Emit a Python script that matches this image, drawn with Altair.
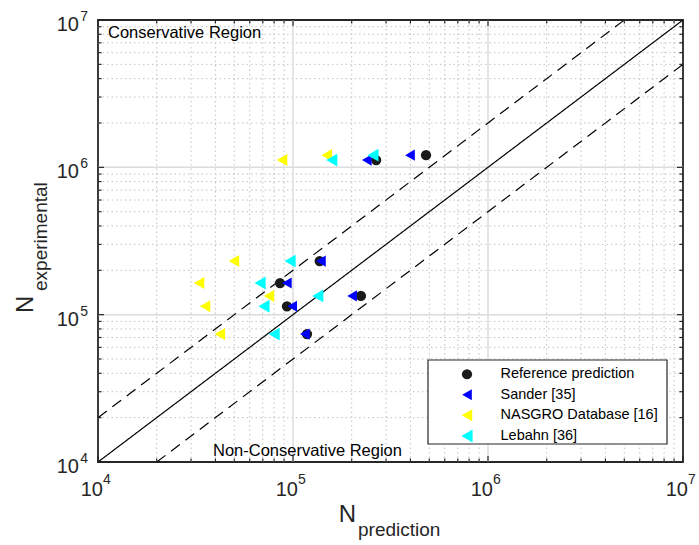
import altair as alt
import pandas as pd

W, H = 585, 442
FONT = "Liberation Sans"
AX = "#262626"

# ---- data ----
series_names = ["Reference prediction", "Sander [35]", "NASGRO Database [16]", "Lebahn [36]"]
series_colors = ["#1a1a1a", "#0000ff", "#ffff00", "#00ffff"]
series_shapes = ["circle", "triangle-left", "triangle-left", "triangle-left"]
n_experimental = [1.21e6, 1.12e6, 2.31e5, 1.64e5, 1.34e5, 1.14e5, 7.38e4]
ref_pred = [4.81e5, 2.67e5, 1.37e5, 8.58e4, 2.23e5, 9.31e4, 1.18e5]
sander_pred = [3.98e5, 2.39e5, 1.39e5, 9.3e4, 2.01e5, 9.9e4, 1.15e5]
nasgro_pred = [1.49e5, 8.79e4, 4.98e4, 3.30e4, 7.53e4, 3.54e4, 4.22e4]
lebahn_pred = [2.57e5, 1.58e5, 9.66e4, 6.78e4, 1.34e5, 7.1e4, 8.0e4]

decades = [1e4, 1e5, 1e6, 1e7]
decade_exp = ["4", "5", "6", "7"]
minor_ticks = [m * d for d in [1e4, 1e5, 1e6] for m in range(2, 10)]
major_grid = [1e5, 1e6]
ratio_lines = [1.0, 2.0, 0.5]
ratio_dash = [[1, 0], [11, 7], [11, 7]]

lo, hi = 1e4, 1e7
xs = alt.Scale(type="log", domain=[lo, hi], nice=False)
ys = alt.Scale(type="log", domain=[lo, hi], nice=False)

rows = []
for name, preds in zip(series_names, [ref_pred, sander_pred, nasgro_pred, lebahn_pred]):
    for p, e in zip(preds, n_experimental):
        rows.append({"pred": p, "exp": e, "series": name})
df = pd.DataFrame(rows)

one = alt.Data(values=[{}])


def vrules(vals, y0, y1, **kw):
    return alt.Chart(pd.DataFrame({"v": vals})).mark_rule(**kw).encode(
        x=alt.X("v:Q", scale=xs, axis=None), y=alt.value(y0), y2=alt.value(y1))


def hrules(vals, x0, x1, **kw):
    return alt.Chart(pd.DataFrame({"v": vals})).mark_rule(**kw).encode(
        y=alt.Y("v:Q", scale=ys, axis=None), x=alt.value(x0), x2=alt.value(x1))


layers = []
# grids
layers.append(vrules(minor_ticks, 0, H, color="#c2c2c2", strokeDash=[1.5, 3], strokeWidth=1))
layers.append(hrules(minor_ticks, 0, W, color="#c2c2c2", strokeDash=[1.5, 3], strokeWidth=1))
layers.append(vrules(major_grid, 0, H, color="#dcdcdc", strokeWidth=1.5))
layers.append(hrules(major_grid, 0, W, color="#dcdcdc", strokeWidth=1.5))

# reference lines y = r * x
for r, dash in zip(ratio_lines, ratio_dash):
    x0 = max(lo, lo / r)
    x1 = min(hi, hi / r)
    ldf = pd.DataFrame({"x": [x0, x1], "y": [x0 * r, x1 * r]})
    layers.append(alt.Chart(ldf).mark_line(color="black", strokeWidth=1.2, strokeDash=dash).encode(
        x=alt.X("x:Q", scale=xs, axis=None), y=alt.Y("y:Q", scale=ys, axis=None)))

# ticks (inside, all four sides)
TM, Tm = 6, 3.5
for vals, L in [(decades, TM), (minor_ticks, Tm)]:
    layers.append(vrules(vals, H, H - L, color=AX, strokeWidth=1.2))
    layers.append(vrules(vals, 0, L, color=AX, strokeWidth=1.2))
    layers.append(hrules(vals, 0, L, color=AX, strokeWidth=1.2))
    layers.append(hrules(vals, W, W - L, color=AX, strokeWidth=1.2))

# legend box
layers.append(alt.Chart(one).mark_rect(fill="white", stroke=AX, strokeWidth=1.2).encode(
    x=alt.value(330), x2=alt.value(569), y=alt.value(340), y2=alt.value(424)))

# data points
leg = alt.Legend(orient="none", legendX=361.5, legendY=347, title=None, padding=0,
                 symbolOffset=0, labelOffset=26, labelFont=FONT, labelFontSize=14.5,
                 labelColor="black", rowPadding=5.5, labelLimit=300)
layers.append(alt.Chart(df).mark_point(filled=True, opacity=1, strokeWidth=1).encode(
    x=alt.X("pred:Q", scale=xs, axis=None),
    y=alt.Y("exp:Q", scale=ys, axis=None),
    color=alt.Color("series:N", scale=alt.Scale(domain=series_names, range=series_colors), legend=leg),
    shape=alt.Shape("series:N", scale=alt.Scale(domain=series_names, range=series_shapes), legend=leg),
    size=alt.Size("series:N", scale=alt.Scale(domain=series_names, range=[105, 165, 165, 165]), legend=leg),
))

# tick labels (10 with superscript exponent)
ddf = pd.DataFrame({"v": decades, "e": decade_exp, "b": ["10"] * 4})
layers.append(alt.Chart(ddf).mark_text(align="right", baseline="alphabetic", dx=5, font=FONT,
                                       fontSize=20, color=AX).encode(
    x=alt.X("v:Q", scale=xs, axis=None), y=alt.value(H + 34), text="b:N"))
layers.append(alt.Chart(ddf).mark_text(align="left", baseline="alphabetic", dx=5, font=FONT,
                                       fontSize=14, color=AX).encode(
    x=alt.X("v:Q", scale=xs, axis=None), y=alt.value(H + 22), text="e:N"))
layers.append(alt.Chart(ddf).mark_text(align="right", baseline="alphabetic", dy=11, font=FONT,
                                       fontSize=20, color=AX).encode(
    y=alt.Y("v:Q", scale=ys, axis=None), x=alt.value(-19), text="b:N"))
layers.append(alt.Chart(ddf).mark_text(align="right", baseline="alphabetic", dy=1, font=FONT,
                                       fontSize=14, color=AX).encode(
    y=alt.Y("v:Q", scale=ys, axis=None), x=alt.value(-10), text="e:N"))

# region annotations
layers.append(alt.Chart(one).mark_text(text="Conservative Region", align="left", baseline="alphabetic",
                                       font=FONT, fontSize=16.5, color="black").encode(
    x=alt.value(10), y=alt.value(18)))
layers.append(alt.Chart(one).mark_text(text="Non-Conservative Region", align="left", baseline="alphabetic",
                                       font=FONT, fontSize=16.5, color="black").encode(
    x=alt.value(115), y=alt.value(436)))

# axis titles with subscripts
layers.append(alt.Chart(one).mark_text(text="N", align="right", baseline="alphabetic",
                                       font=FONT, fontSize=24, color=AX).encode(
    x=alt.value(258), y=alt.value(H + 60)))
layers.append(alt.Chart(one).mark_text(text="prediction", align="left", baseline="alphabetic",
                                       font=FONT, fontSize=19, color=AX).encode(
    x=alt.value(260), y=alt.value(H + 74)))
layers.append(alt.Chart(one).mark_text(text="N", align="left", baseline="alphabetic", angle=270,
                                       font=FONT, fontSize=24, color=AX).encode(
    x=alt.value(-65), y=alt.value(293)))
layers.append(alt.Chart(one).mark_text(text="experimental", align="left", baseline="alphabetic", angle=270,
                                       font=FONT, fontSize=19, color=AX).encode(
    x=alt.value(-51), y=alt.value(271)))

chart = alt.layer(*layers).properties(
    width=W, height=H,
    padding={"left": 98, "top": 20, "right": 16, "bottom": 83},
    autosize=alt.AutoSizeParams(type="none"),
    background="white",
).configure_view(stroke=AX, strokeWidth=1.8)

chart.save("out.html", embed_options={"renderer": "svg", "actions": False})
